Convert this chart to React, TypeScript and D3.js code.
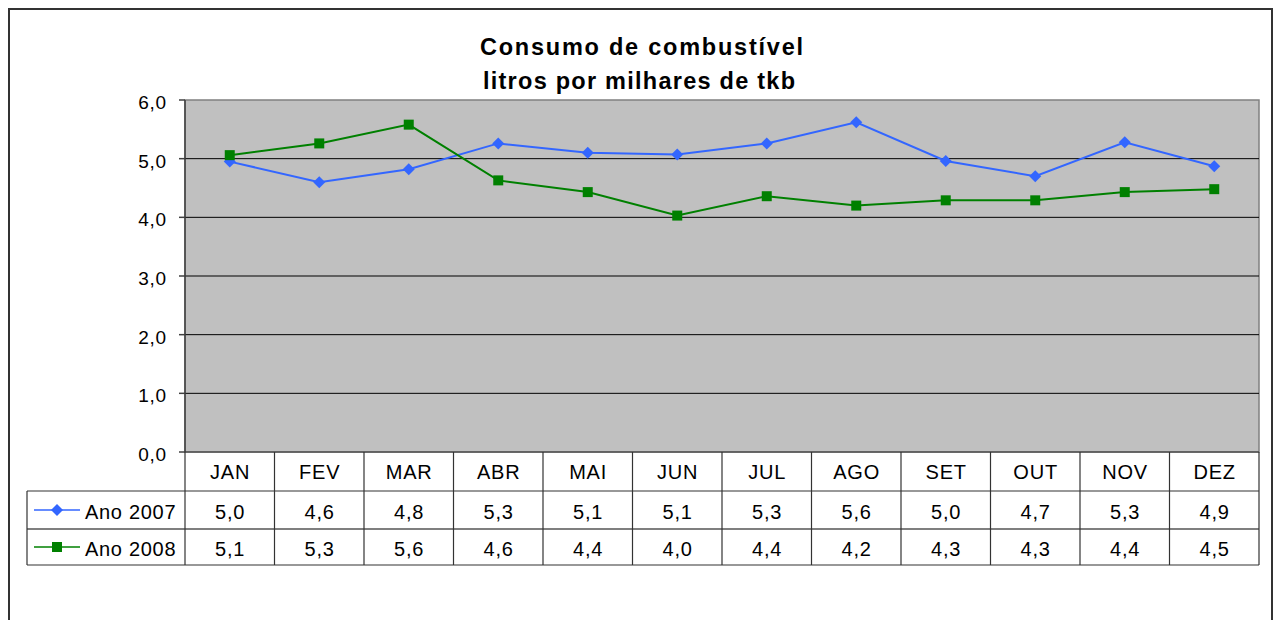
import React from "react";
import * as d3 from "d3";

const months = ["JAN", "FEV", "MAR", "ABR", "MAI", "JUN", "JUL", "AGO", "SET", "OUT", "NOV", "DEZ"];
const ano2007 = [4.95, 4.6, 4.82, 5.26, 5.1, 5.07, 5.26, 5.62, 4.96, 4.7, 5.28, 4.87];
const ano2008 = [5.06, 5.26, 5.58, 4.63, 4.43, 4.03, 4.36, 4.2, 4.29, 4.29, 4.43, 4.48];
const yTicks = [0, 1, 2, 3, 4, 5, 6];
const seriesNames = ["Ano 2007", "Ano 2008"];
const titleLines = ["Consumo de combustível", "litros por milhares de tkb"];

const W = 1276, H = 620;
const plot = { left: 185, top: 100, right: 1259, bottom: 452 };
const rowH = [452, 491, 529, 565];
const legendLeft = 27;
const FONT = "Liberation Sans, Arial, sans-serif";
const titleLayout = [
  { x: 641.5, y: 54.5, len: 323 },
  { x: 639, y: 88.5, len: 312 },
];

export default function App() {
  const x = d3.scaleBand<string>().domain(months).range([plot.left, plot.right]);
  const y = d3.scaleLinear().domain([0, 6]).range([plot.bottom, plot.top]);
  const fmt = (v: number) => v.toFixed(1).replace(".", ",");
  const cx = (m: string) => (x(m) as number) + x.bandwidth() / 2;
  const line = d3.line<number>().x((_, i) => cx(months[i])).y((v) => y(v));
  const series = [
    { name: seriesNames[0], values: ano2007, color: "#3366FF", marker: "diamond" },
    { name: seriesNames[1], values: ano2008, color: "#008000", marker: "square" },
  ];
  const marker = (kind: string, px: number, py: number, color: string, key: any) =>
    kind === "diamond" ? (
      <path key={key} d={`M${px},${py - 6}L${px + 6},${py}L${px},${py + 6}L${px - 6},${py}Z`} fill={color} />
    ) : (
      <rect key={key} x={px - 5} y={py - 5} width={10} height={10} fill={color} />
    );

  return (
    <div style={{ position: "absolute", left: 0, top: 0 }}>
      <svg width={W} height={H} style={{ display: "block" }} fontFamily={FONT}>
        <rect x={0} y={0} width={W} height={H} fill="#fff" />
        <rect x={9} y={9} width={1263} height={700} fill="none" stroke="#333" strokeWidth={2} />
        {titleLines.map((t, i) => (
          <text key={i} x={titleLayout[i].x} y={titleLayout[i].y} textAnchor="middle" fontWeight="bold" fontSize={23.5}
            textLength={titleLayout[i].len} lengthAdjust="spacing" fill="#000">
            {t}
          </text>
        ))}
        <rect x={plot.left} y={plot.top} width={plot.right - plot.left} height={plot.bottom - plot.top} fill="#C0C0C0" stroke="#808080" strokeWidth={1.5} />
        {yTicks.filter((t) => t > 0 && t < 6).map((t) => (
          <line key={t} x1={plot.left} x2={plot.right} y1={y(t)} y2={y(t)} stroke="#000" strokeWidth={1} />
        ))}
        <line x1={plot.left} x2={plot.left} y1={plot.top} y2={plot.bottom} stroke="#404040" strokeWidth={1.5} />
        {yTicks.map((t) => (
          <g key={t}>
            <line x1={plot.left - 6} x2={plot.left} y1={y(t)} y2={y(t)} stroke="#404040" strokeWidth={1.5} />
            <text x={167} y={y(t) + 9} textAnchor="end" fontSize={19} letterSpacing={0.8} fill="#000">{fmt(t)}</text>
          </g>
        ))}
        {series.map((s) => (
          <g key={s.name}>
            <path d={line(s.values) || ""} fill="none" stroke={s.color} strokeWidth={2} />
            {s.values.map((v, i) => marker(s.marker, cx(months[i]), y(v), s.color, i))}
          </g>
        ))}
        {/* data table */}
        <g stroke="#333" strokeWidth={1.2} fill="none">
          <line x1={plot.left} x2={plot.right} y1={rowH[0]} y2={rowH[0]} />
          <line x1={legendLeft} x2={plot.right} y1={rowH[1]} y2={rowH[1]} />
          <line x1={legendLeft} x2={plot.right} y1={rowH[2]} y2={rowH[2]} stroke="#000" />
          <line x1={legendLeft} x2={plot.right} y1={rowH[3]} y2={rowH[3]} />
          <line x1={legendLeft} x2={legendLeft} y1={rowH[1]} y2={rowH[3]} />
          {months.map((m) => (
            <line key={m} x1={x(m)} x2={x(m)} y1={rowH[0]} y2={rowH[3]} />
          ))}
          <line x1={plot.right} x2={plot.right} y1={rowH[0]} y2={rowH[3]} />
        </g>
        {months.map((m) => (
          <text key={m} x={cx(m) + 0.4} y={(rowH[0] + rowH[1]) / 2 + 7} textAnchor="middle" fontSize={20} letterSpacing={0.8} fill="#000">{m}</text>
        ))}
        {series.map((s, r) => {
          const ym = (rowH[r + 1] + rowH[r + 2]) / 2;
          return (
            <g key={s.name}>
              <line x1={34} x2={80} y1={ym} y2={ym} stroke={s.color} strokeWidth={1.5} />
              {marker(s.marker, 57, ym, s.color, "m")}
              <text x={85} y={ym + 8.5} fontSize={20} letterSpacing={0.7} fill="#000">{s.name}</text>
              {s.values.map((v, i) => (
                <text key={i} x={cx(months[i]) + 0.4} y={ym + 8.5} textAnchor="middle" fontSize={20} letterSpacing={0.8} fill="#000">{fmt(v)}</text>
              ))}
            </g>
          );
        })}
      </svg>
    </div>
  );
}
